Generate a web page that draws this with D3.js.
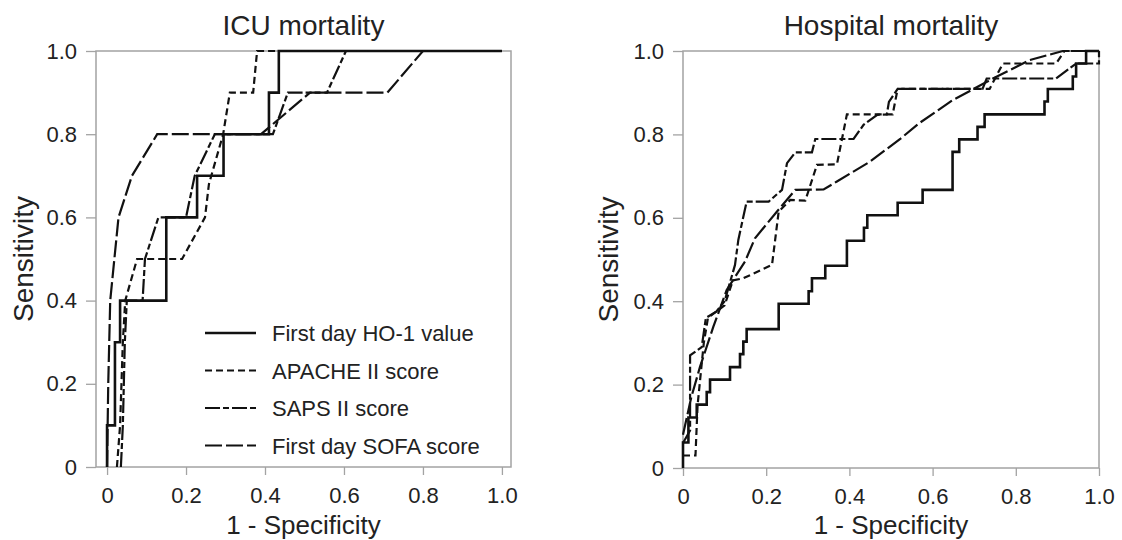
<!DOCTYPE html>
<html>
<head>
<meta charset="utf-8">
<script src="https://cdn.jsdelivr.net/npm/d3@7"></script>
<style>
  body { margin: 0; background: #fff; }
  svg { display: block; font-family: "Liberation Sans", Arial, sans-serif; }
</style>
</head>
<body>
<svg id="chart" width="1122" height="540"></svg>
<script>
// series names / legend labels
var seriesNames = ['First day HO-1 value', 'APACHE II score', 'SAPS II score', 'First day SOFA score'];
var ticks = [0, 0.2, 0.4, 0.6, 0.8, 1.0];
var tickLabels = ['0', '0.2', '0.4', '0.6', '0.8', '1.0'];

// ICU mortality - [1-specificity, sensitivity]
var icuHO1 = [[0, 0], [0, 0.1], [0.02, 0.3], [0.033, 0.4], [0.15, 0.6], [0.228, 0.7], [0.295, 0.8], [0.41, 0.9], [0.435, 1.0], [1.0, 1.0]]; // step points
var icuApache = [[0.025, 0], [0.033, 0.1], [0.04, 0.3], [0.046, 0.4], [0.076, 0.5], [0.19, 0.5], [0.248, 0.6], [0.258, 0.68],
  [0.294, 0.8], [0.311, 0.9], [0.37, 0.9], [0.38, 1.0], [1.0, 1.0]];
var icuSaps = [[0.035, 0], [0.04, 0.1], [0.045, 0.3], [0.05, 0.4], [0.09, 0.4], [0.096, 0.5], [0.13, 0.6], [0.2, 0.6], [0.222, 0.7],
  [0.273, 0.8], [0.42, 0.8], [0.458, 0.9], [0.557, 0.9], [0.605, 1.0], [1.0, 1.0]];
var icuSofa = [[0, 0], [0.003, 0.2], [0.008, 0.4], [0.029, 0.6], [0.063, 0.7], [0.127, 0.8], [0.39, 0.8], [0.514, 0.9],
  [0.71, 0.9], [0.8, 1.0], [1.0, 1.0]];

// Hospital mortality
var hospHO1 = [[0, 0], [0, 0.061], [0.013, 0.121], [0.033, 0.152], [0.057, 0.182], [0.065, 0.212], [0.113, 0.242], [0.137, 0.273],
  [0.145, 0.303], [0.153, 0.333], [0.23, 0.394], [0.302, 0.424], [0.31, 0.455], [0.342, 0.485], [0.394, 0.545], [0.435, 0.576],
  [0.443, 0.606], [0.516, 0.636], [0.576, 0.667], [0.648, 0.758], [0.664, 0.788], [0.708, 0.818], [0.725, 0.848], [0.869, 0.879],
  [0.877, 0.909], [0.937, 0.939], [0.945, 0.97], [0.969, 1.0], [1.0, 1.0]]; // step points
var hospApache = [[0, 0.03], [0.03, 0.03], [0.035, 0.15], [0.05, 0.3], [0.06, 0.36], [0.1, 0.39], [0.12, 0.45], [0.145, 0.455],
  [0.214, 0.487], [0.23, 0.615], [0.258, 0.643], [0.294, 0.641], [0.322, 0.727], [0.37, 0.728], [0.394, 0.848], [0.504, 0.848],
  [0.516, 0.909], [0.737, 0.909], [0.769, 0.97], [0.897, 0.97], [0.917, 1.0], [1.0, 1.0]];
var hospSaps = [[0, 0.06], [0.017, 0.09], [0.017, 0.27], [0.045, 0.29], [0.055, 0.36], [0.08, 0.375], [0.1, 0.4], [0.125, 0.487],
  [0.133, 0.547], [0.153, 0.639], [0.206, 0.639], [0.238, 0.667], [0.25, 0.731], [0.27, 0.757], [0.31, 0.757], [0.318, 0.789],
  [0.41, 0.789], [0.434, 0.823], [0.467, 0.847], [0.49, 0.848], [0.495, 0.878], [0.516, 0.909], [0.72, 0.909], [0.73, 0.934],
  [0.897, 0.934], [0.945, 0.97], [1.0, 0.97], [1.0, 1.0]];
var hospSofa = [[0, 0.08], [0.02, 0.17], [0.041, 0.243], [0.073, 0.339], [0.105, 0.427], [0.149, 0.495], [0.173, 0.551],
  [0.226, 0.615], [0.27, 0.667], [0.338, 0.668], [0.37, 0.687], [0.45, 0.735], [0.523, 0.79], [0.568, 0.827], [0.648, 0.882],
  [0.745, 0.934], [0.833, 0.978], [0.913, 1.0], [1.0, 1.0]];

var styles = [
  {dash: null, width: 2.6, step: true},
  {dash: '7,4', width: 2.2},
  {dash: '15,3,6,3', width: 2.2},
  {dash: '17,4', width: 2.2}
];

var svg = d3.select('#chart');
var ink = '#111';
var frameColor = '#a3a3a3';

function drawPanel (opt) {
  var x = d3.scaleLinear().domain(opt.xDomain).range([opt.left, opt.right]);
  var y = d3.scaleLinear().domain([0, 1]).range([opt.bottom, opt.top]);
  var g = svg.append('g');

  var fmt = function (d) { return tickLabels[ticks.indexOf(d)]; };

  var yAxis = g.append('g')
    .attr('transform', 'translate(' + opt.left + ',0)')
    .call(d3.axisLeft(y).tickValues(ticks).tickFormat(fmt).tickSize(10).tickPadding(9));
  var xAxis = g.append('g')
    .attr('transform', 'translate(0,' + opt.bottom + ')')
    .call(d3.axisBottom(x).tickValues(ticks).tickFormat(fmt).tickSize(8).tickPadding(12));

  [yAxis, xAxis].forEach(function (a) {
    a.select('.domain').remove();
    a.selectAll('line').attr('stroke', frameColor).attr('stroke-width', 1.3);
    a.selectAll('text').attr('fill', '#222').style('font-size', '22px').style('font-family', null);
  });

  g.append('rect')
    .attr('x', opt.left).attr('y', opt.top)
    .attr('width', opt.right - opt.left).attr('height', opt.bottom - opt.top)
    .attr('fill', 'none').attr('stroke', frameColor).attr('stroke-width', 1.5);

  opt.series.forEach(function (data, i) {
    var st = styles[i];
    var line = d3.line()
      .x(function (d) { return x(d[0]); })
      .y(function (d) { return y(d[1]); })
      .curve(st.step ? d3.curveStepAfter : d3.curveLinear);
    g.append('path')
      .attr('d', line(data))
      .attr('fill', 'none')
      .attr('stroke', ink)
      .attr('stroke-width', st.width)
      .attr('stroke-dasharray', st.dash)
      .attr('stroke-linejoin', 'miter');
  });

  var cx = (opt.left + opt.right) / 2;
  g.append('text').attr('x', cx).attr('y', 35)
    .attr('text-anchor', 'middle').attr('fill', '#222').style('font-size', '28px')
    .text(opt.title);
  g.append('text').attr('x', cx).attr('y', 534)
    .attr('text-anchor', 'middle').attr('fill', '#222').style('font-size', '26px')
    .text('1 - Specificity');
  g.append('text')
    .attr('transform', 'translate(' + opt.yTitleX + ',' + (opt.top + opt.bottom) / 2 + ') rotate(-90)')
    .attr('text-anchor', 'middle').attr('fill', '#222').style('font-size', '28px')
    .text('Sensitivity');

  if (opt.legend) {
    var lg = g.append('g');
    seriesNames.forEach(function (name, i) {
      var st = styles[i];
      var yy = 333 + i * 37.5;
      lg.append('line')
        .attr('x1', 205).attr('x2', 256).attr('y1', yy).attr('y2', yy)
        .attr('stroke', ink).attr('stroke-width', st.width)
        .attr('stroke-dasharray', st.dash);
      lg.append('text').attr('x', 272).attr('y', yy + 8)
        .attr('fill', '#222').style('font-size', '22px')
        .text(name);
    });
  }
}

drawPanel({
  title: 'ICU mortality',
  left: 96, right: 511, top: 51, bottom: 467,
  xDomain: [-0.028, 1.023],
  yTitleX: 33,
  series: [icuHO1, icuApache, icuSaps, icuSofa],
  legend: true
});

drawPanel({
  title: 'Hospital mortality',
  left: 683, right: 1099, top: 51, bottom: 468,
  xDomain: [0, 1],
  yTitleX: 618,
  series: [hospHO1, hospApache, hospSaps, hospSofa],
  legend: false
});
</script>
</body>
</html>
